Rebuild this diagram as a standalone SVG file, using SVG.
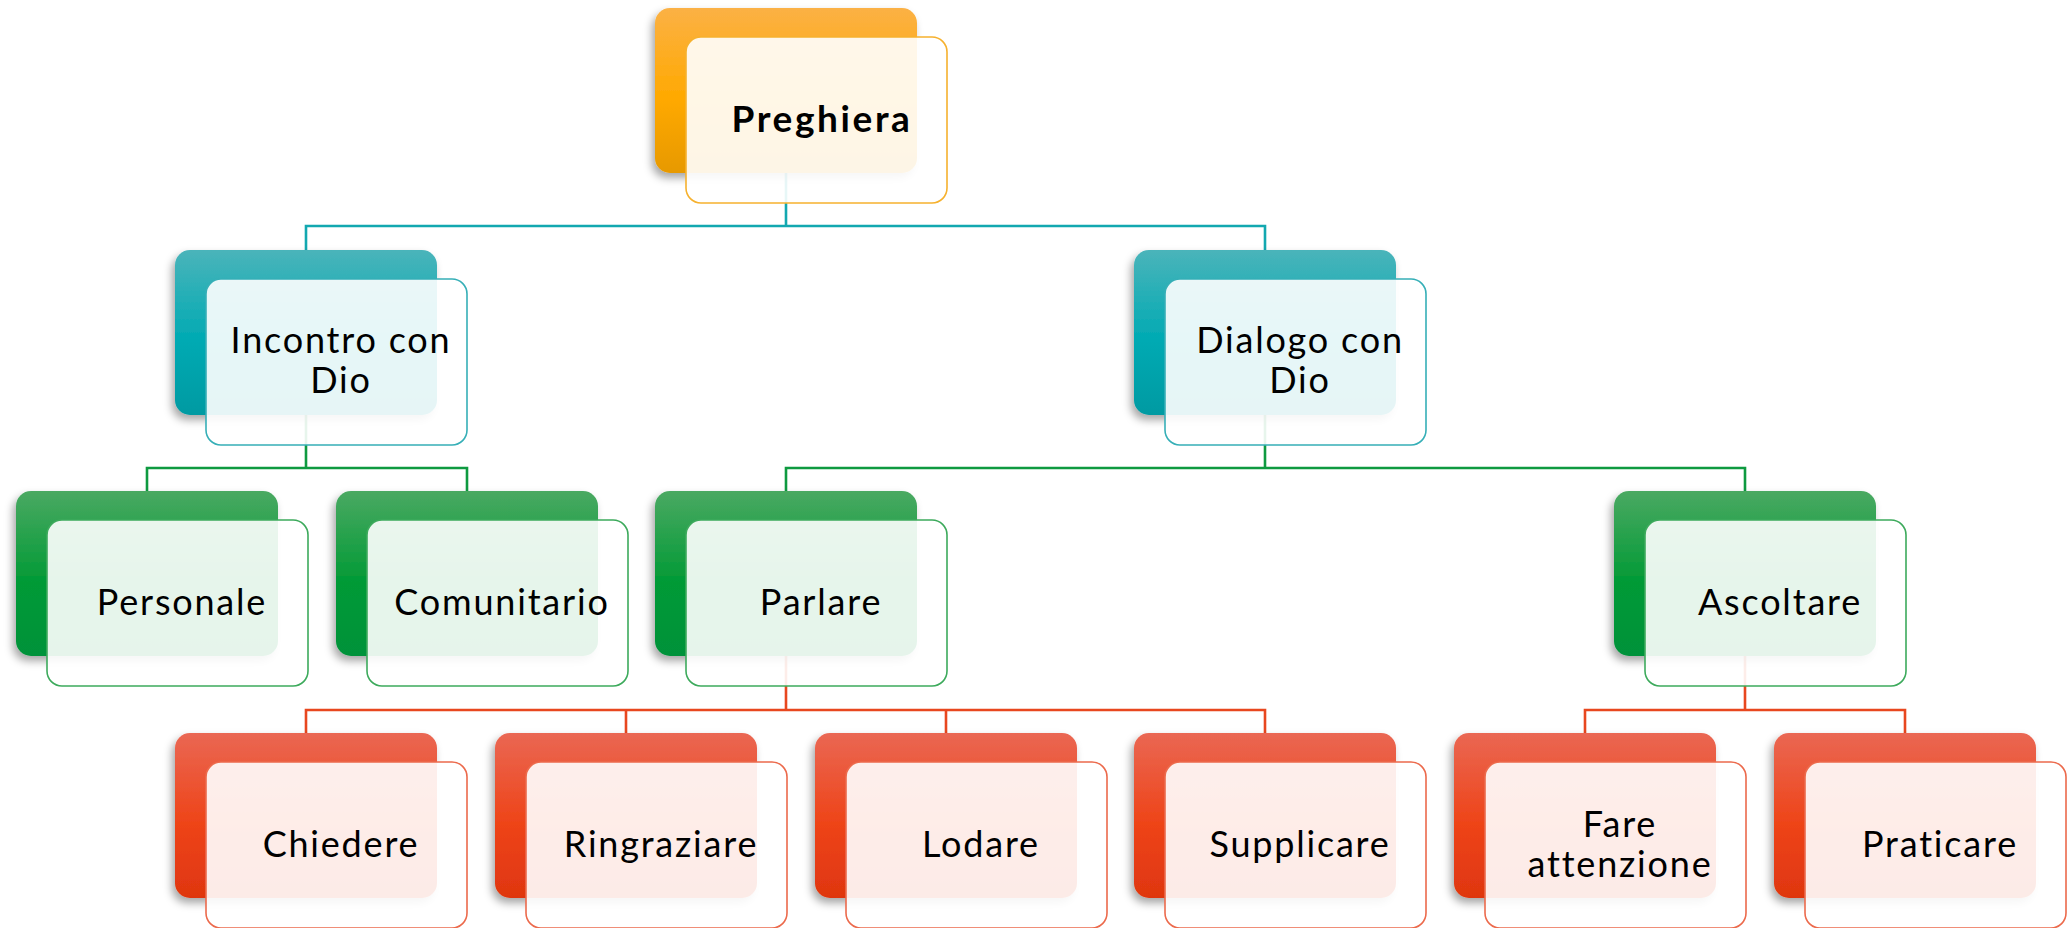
<svg xmlns="http://www.w3.org/2000/svg" width="2070" height="928" viewBox="0 0 2070 928">
<defs>
<linearGradient id="gOr" x1="0" y1="0" x2="0" y2="1">
<stop offset="0" stop-color="#FBB145"/><stop offset="0.55" stop-color="#FFA900"/><stop offset="1" stop-color="#E79900"/>
</linearGradient>
<linearGradient id="gTe" x1="0" y1="0" x2="0" y2="1">
<stop offset="0" stop-color="#4AB4BA"/><stop offset="0.55" stop-color="#00AAB3"/><stop offset="1" stop-color="#009AA2"/>
</linearGradient>
<linearGradient id="gGr" x1="0" y1="0" x2="0" y2="1">
<stop offset="0" stop-color="#4AA962"/><stop offset="0.55" stop-color="#029A36"/><stop offset="1" stop-color="#00923A"/>
</linearGradient>
<linearGradient id="gRe" x1="0" y1="0" x2="0" y2="1">
<stop offset="0" stop-color="#EA6753"/><stop offset="0.55" stop-color="#EE4418"/><stop offset="1" stop-color="#DF3610"/>
</linearGradient>
<filter id="sh" x="-10%" y="-10%" width="125%" height="130%">
<feDropShadow dx="-3" dy="5" stdDeviation="4" flood-color="#000" flood-opacity="0.35"/>
</filter>
</defs>
<style>
.back{filter:url(#sh)}
.front{fill:#fff;fill-opacity:0.9;stroke-width:1.6}
.or .back{fill:url(#gOr)} .or .front{stroke:#F6B12E}
.te .back{fill:url(#gTe)} .te .front{stroke:#36AFB7}
.gr .back{fill:url(#gGr)} .gr .front{stroke:#3DAA5C}
.re .back{fill:url(#gRe)} .re .front{stroke:#EC6A4C}
text{font-family:Lato,"Noto Sans","Liberation Sans",sans-serif;font-size:36px;fill:#000;text-anchor:middle;letter-spacing:1.8px}
.b{font-weight:bold;font-size:37px;letter-spacing:2.6px}
.cn{fill:none;stroke-width:2.6}
</style>
<g id="connectors">
<path class="cn" stroke="#12A8B0" d="M786,173 V226 M306,250 V226 H1265 V250"/>
<path class="cn" stroke="#0E9A40" d="M306,415 V468 M147,491 V468 H467 V491 M1265,415 V468 M786,491 V468 H1745 V491"/>
<path class="cn" stroke="#E8471F" d="M786,656 V710 M306,733 V710 H1265 V733 M626,710 V733 M946,710 V733 M1745,656 V710 M1585,733 V710 H1905 V733"/>
</g>
<g id="preghiera" class="or">
<rect class="back" x="655" y="8" width="262" height="165" rx="15"/>
<rect class="front" x="686" y="37" width="261" height="166" rx="15"/>
<text class="b" x="822" y="132">Preghiera</text>
</g>
<g id="incontro" class="te">
<rect class="back" x="175" y="250" width="262" height="165" rx="15"/>
<rect class="front" x="206" y="279" width="261" height="166" rx="15"/>
<text x="341" y="353">Incontro con</text>
<text x="341" y="393">Dio</text>
</g>
<g id="dialogo" class="te">
<rect class="back" x="1134" y="250" width="262" height="165" rx="15"/>
<rect class="front" x="1165" y="279" width="261" height="166" rx="15"/>
<text x="1300" y="353">Dialogo con</text>
<text x="1300" y="393">Dio</text>
</g>
<g id="personale" class="gr">
<rect class="back" x="16" y="491" width="262" height="165" rx="15"/>
<rect class="front" x="47" y="520" width="261" height="166" rx="15"/>
<text x="182" y="615">Personale</text>
</g>
<g id="comunitario" class="gr">
<rect class="back" x="336" y="491" width="262" height="165" rx="15"/>
<rect class="front" x="367" y="520" width="261" height="166" rx="15"/>
<text x="502" y="615">Comunitario</text>
</g>
<g id="parlare" class="gr">
<rect class="back" x="655" y="491" width="262" height="165" rx="15"/>
<rect class="front" x="686" y="520" width="261" height="166" rx="15"/>
<text x="821" y="615">Parlare</text>
</g>
<g id="ascoltare" class="gr">
<rect class="back" x="1614" y="491" width="262" height="165" rx="15"/>
<rect class="front" x="1645" y="520" width="261" height="166" rx="15"/>
<text x="1780" y="615">Ascoltare</text>
</g>
<g id="chiedere" class="re">
<rect class="back" x="175" y="733" width="262" height="165" rx="15"/>
<rect class="front" x="206" y="762" width="261" height="166" rx="15"/>
<text x="341" y="857">Chiedere</text>
</g>
<g id="ringraziare" class="re">
<rect class="back" x="495" y="733" width="262" height="165" rx="15"/>
<rect class="front" x="526" y="762" width="261" height="166" rx="15"/>
<text x="661" y="857">Ringraziare</text>
</g>
<g id="lodare" class="re">
<rect class="back" x="815" y="733" width="262" height="165" rx="15"/>
<rect class="front" x="846" y="762" width="261" height="166" rx="15"/>
<text x="981" y="857">Lodare</text>
</g>
<g id="supplicare" class="re">
<rect class="back" x="1134" y="733" width="262" height="165" rx="15"/>
<rect class="front" x="1165" y="762" width="261" height="166" rx="15"/>
<text x="1300" y="857">Supplicare</text>
</g>
<g id="fare-attenzione" class="re">
<rect class="back" x="1454" y="733" width="262" height="165" rx="15"/>
<rect class="front" x="1485" y="762" width="261" height="166" rx="15"/>
<text x="1620" y="837">Fare</text>
<text x="1620" y="877">attenzione</text>
</g>
<g id="praticare" class="re">
<rect class="back" x="1774" y="733" width="262" height="165" rx="15"/>
<rect class="front" x="1805" y="762" width="261" height="166" rx="15"/>
<text x="1940" y="857">Praticare</text>
</g>
</svg>
